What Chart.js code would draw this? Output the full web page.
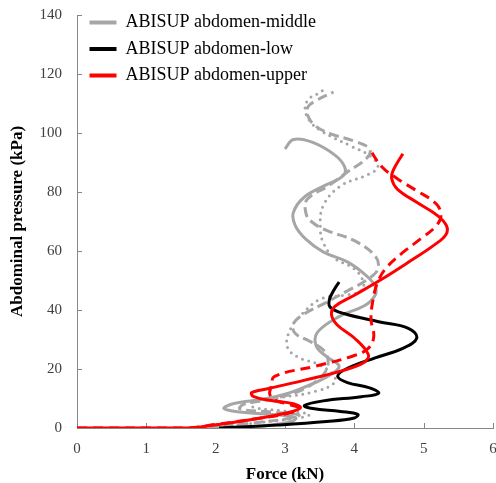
<!DOCTYPE html>
<html>
<head>
<meta charset="utf-8">
<script src="https://cdn.jsdelivr.net/npm/chart.js@4.4.0/dist/chart.umd.min.js"></script>
<style>
  html, body { margin: 0; padding: 0; background: #fff; }
  #wrap { width: 496px; height: 483px; }
</style>
</head>
<body>
<div id="wrap"><canvas id="pressureChart"></canvas></div>
<script>
// axis ticks
const forceTicks = [0, 1, 2, 3, 4, 5, 6];
const pressureTicks = [0, 20, 40, 60, 80, 100, 120, 140];

// ABISUP abdomen-middle, solid trace (force kN / pressure kPa)
const middleSolidForce = [2.25, 2.7, 3.1, 3.15, 2.8, 2.35, 2.12, 2.25, 2.7, 3.05, 3.35, 3.65, 3.78, 3.6, 3.45, 3.47, 3.8, 4.15, 4.3, 4.3, 4.18, 3.9, 3.55, 3.3, 3.15, 3.12, 3.28, 3.6, 3.84, 3.86, 3.72, 3.4, 3.12, 3.0];
const middleSolidPressure = [0, 0.8, 2.2, 3.6, 4.6, 5.4, 6.6, 8.2, 9.8, 11.8, 14.5, 18, 21, 24.2, 27.8, 32.5, 38, 41.5, 45, 48, 51.5, 56.3, 59.7, 64, 68.5, 73, 78.3, 82.5, 85.5, 88.5, 92.5, 96.8, 97.8, 94.6];

// ABISUP abdomen-middle, dashed trace
const middleDashForce = [1.9, 2.5, 3.05, 3.2, 2.8, 2.35, 2.4, 2.8, 3.15, 3.4, 3.58, 3.62, 3.55, 3.35, 3.15, 3.12, 3.3, 3.55, 3.9, 4.2, 4.34, 4.3, 4.0, 3.6, 3.38, 3.3, 3.32, 3.62, 3.9, 4.18, 4.22, 3.99, 3.66, 3.44, 3.33, 3.33, 3.45, 3.7];
const middleDashPressure = [0, 1.6, 3.2, 4.4, 5.4, 6.5, 8.0, 9.8, 12, 15, 19, 23, 26.5, 29.5, 32, 35.3, 39, 42, 46.5, 50.5, 54, 58.3, 63.5, 67, 70, 73, 77.5, 82, 86.8, 91.5, 94.6, 97.3, 99.7, 102.4, 105.8, 108.8, 111, 113.9];

// ABISUP abdomen-middle, dotted trace
const middleDotForce = [1.95, 2.6, 3.2, 3.35, 3.0, 2.55, 2.5, 2.9, 3.45, 3.72, 3.68, 3.47, 3.18, 3.03, 3.08, 3.22, 3.51, 3.85, 4.1, 4.13, 4.0, 3.7, 3.55, 3.51, 3.55, 3.8, 4.2, 4.34, 4.23, 3.95, 3.55, 3.37, 3.29, 3.34, 3.47, 3.58];
const middleDotPressure = [0, 1.8, 3.4, 4.6, 5.8, 7, 8.5, 10.2, 12.5, 15.5, 18.5, 21.7, 24.1, 27.8, 33.6, 38, 43.7, 45, 46.5, 49.5, 53.9, 57.8, 63, 67.5, 75.3, 82, 86, 88.5, 92.2, 95.6, 100.3, 103.7, 108, 111.5, 113.3, 115];

// ABISUP abdomen-low
const lowForce = [2.05, 2.9, 3.6, 4.0, 4.05, 3.8, 3.4, 3.28, 3.55, 4.1, 4.35, 4.22, 3.9, 3.76, 3.88, 4.3, 4.7, 4.9, 4.78, 4.35, 3.85, 3.65, 3.64, 3.7, 3.78];
const lowPressure = [0, 1.0, 2.2, 3.4, 4.6, 5.6, 6.6, 7.6, 9.2, 10.6, 11.8, 13.6, 15.4, 17.5, 20, 23.8, 27, 30.5, 33.8, 36, 38.8, 41, 43.5, 46.5, 49.5];

// ABISUP abdomen-upper, solid trace
const upperSolidForce = [0, 1.6, 1.95, 2.5, 3.0, 3.22, 3.12, 2.8, 2.55, 2.52, 2.75, 3.3, 3.85, 4.15, 4.2, 4.0, 3.75, 3.67, 3.72, 4.0, 4.4, 4.8, 5.15, 5.32, 5.33, 5.2, 4.9, 4.62, 4.54, 4.56, 4.7];
const upperSolidPressure = [0, 0, 0.9, 2.8, 5.0, 6.8, 8.2, 9.3, 10.6, 12, 13.3, 16.3, 19.6, 22.4, 25, 30.5, 35, 38.5, 41.2, 45, 50.5, 56.5, 62, 65.5, 68.5, 72, 76.5, 81, 84.4, 87.3, 93];

// ABISUP abdomen-upper, dashed trace
const upperDashForce = [0, 1.6, 2.0, 2.6, 3.05, 3.2, 3.05, 2.85, 2.78, 2.8, 2.85, 3.45, 3.99, 4.2, 4.28, 4.24, 4.27, 4.33, 4.45, 4.7, 4.95, 5.18, 5.25, 5.18, 4.88, 4.62, 4.4, 4.22];
const upperDashPressure = [0, 0, 1.2, 3.2, 5.0, 6.6, 8.0, 9.5, 11.5, 14, 17.5, 21, 24.5, 27, 31, 37, 43.5, 49, 54, 59.5, 64, 68.5, 72, 76, 80.7, 84.5, 88.5, 94.5];

const seriesNames = ['ABISUP abdomen-middle', 'ABISUP abdomen-low', 'ABISUP abdomen-upper'];

const GRAY = '#a6a6a6';
const RED = '#ff0000';
const BLACK = '#000000';
const AXIS = '#868686';
const SERIF = "'Liberation Serif', 'Times New Roman', serif";

function toPoints(xs, ys) {
    return xs.map((x, i) => ({ x: x, y: ys[i] }));
}

function trace(label, xs, ys, color, dash, order, extra) {
    return Object.assign({
        label: label,
        data: toPoints(xs, ys),
        showLine: true,
        borderColor: color,
        backgroundColor: color,
        borderWidth: 3,
        borderDash: dash,
        pointRadius: 0,
        pointHoverRadius: 0,
        tension: 0.4,
        fill: false,
        order: order
    }, extra || {});
}

// only the three solid traces go in the legend, in this order
const legendOrder = [0, 1, 2];

const datasets = [
    trace(seriesNames[0], middleSolidForce, middleSolidPressure, GRAY, [], 3),
    trace(seriesNames[1], lowForce, lowPressure, BLACK, [], 2),
    trace(seriesNames[2], upperSolidForce, upperSolidPressure, RED, [], 0),
    trace(seriesNames[0] + ' dashed', middleDashForce, middleDashPressure, GRAY, [10, 5], 4),
    trace(seriesNames[0] + ' dotted', middleDotForce, middleDotPressure, GRAY, [0, 6.5], 5, { borderCapStyle: 'round' }),
    trace(seriesNames[2] + ' dashed', upperDashForce, upperDashPressure, RED, [10, 6], 1)
];

// tick marks pointing into the plot, like the original
const inwardTicks = {
    id: 'inwardTicks',
    beforeDatasetsDraw(chart) {
        const ctx = chart.ctx;
        const xs = chart.scales.x, ys = chart.scales.y;
        ctx.save();
        ctx.strokeStyle = AXIS;
        ctx.lineWidth = 1;
        ctx.beginPath();
        xs.ticks.forEach((t, i) => {
            const px = Math.round(xs.getPixelForTick(i)) + 0.5;
            ctx.moveTo(px, xs.top);
            ctx.lineTo(px, xs.top - 5);
        });
        ys.ticks.forEach((t, i) => {
            const py = Math.round(ys.getPixelForTick(i)) + 0.5;
            ctx.moveTo(ys.right, py);
            ctx.lineTo(ys.right + 5, py);
        });
        ctx.stroke();
        ctx.restore();
    }
};

// nudge the legend into the corner of the plot
const legendNudge = {
    id: 'legendNudge',
    afterLayout(chart) {
        chart.legend.left += 4;
        chart.legend.top += 5;
    }
};

new Chart(document.getElementById('pressureChart'), {
    type: 'scatter',
    data: { datasets: datasets },
    options: {
        responsive: true,
        maintainAspectRatio: false,
        animation: false,
        layout: { padding: { top: 15, right: 3, left: 0, bottom: 0 } },
        plugins: {
            tooltip: { enabled: false },
            legend: {
                position: 'chartArea',
                align: 'start',
                labels: {
                    color: '#000',
                    font: { family: SERIF, size: 18 },
                    boxWidth: 27,
                    boxHeight: 4,
                    padding: 8.5,
                    generateLabels(chart) {
                        return Chart.defaults.plugins.legend.labels.generateLabels(chart)
                            .filter(item => legendOrder.includes(item.datasetIndex))
                            .sort((a, b) => legendOrder.indexOf(a.datasetIndex) - legendOrder.indexOf(b.datasetIndex))
                            .map(item => Object.assign(item, { lineWidth: 0, fillStyle: item.strokeStyle, lineDash: [] }));
                    }
                }
            }
        },
        scales: {
            x: {
                type: 'linear',
                min: 0,
                max: 6,
                afterBuildTicks(scale) { scale.ticks = forceTicks.map(v => ({ value: v })); },
                ticks: { padding: 12, color: '#404040', font: { family: SERIF, size: 15 } },
                grid: { drawOnChartArea: false, drawTicks: false },
                border: { color: AXIS },
                title: {
                    display: true,
                    text: 'Force (kN)',
                    color: '#000',
                    font: { family: SERIF, size: 17, weight: 'bold', lineHeight: 1 },
                    padding: { top: 0, bottom: 0 }
                },
                afterFit(scale) {
                    scale.height = 55;
                    scale.paddingLeft = 0;
                    scale.paddingRight = 0;
                }
            },
            y: {
                type: 'linear',
                min: 0,
                max: 140,
                afterBuildTicks(scale) { scale.ticks = pressureTicks.map(v => ({ value: v })); },
                ticks: { padding: 15, color: '#404040', font: { family: SERIF, size: 15 } },
                grid: { drawOnChartArea: false, drawTicks: false },
                border: { color: AXIS },
                title: {
                    display: true,
                    text: 'Abdominal pressure (kPa)',
                    color: '#000',
                    font: { family: SERIF, size: 17, weight: 'bold', lineHeight: 1 },
                    padding: { top: 9, bottom: 0 }
                },
                afterFit(scale) {
                    scale.width = 77;
                    scale.paddingTop = 0;
                    scale.paddingBottom = 0;
                }
            }
        }
    },
    plugins: [inwardTicks, legendNudge]
});
</script>
</body>
</html>
